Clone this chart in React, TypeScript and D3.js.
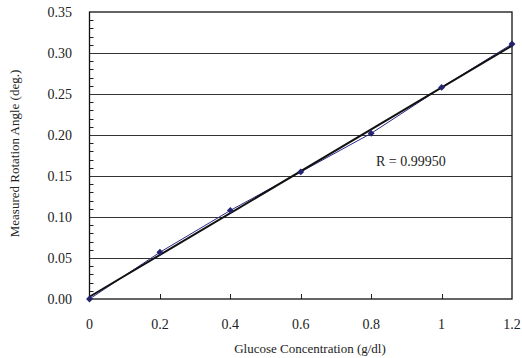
import { useEffect, useRef } from 'react';
import * as d3 from 'd3';

// glucose concentration (g/dl)
const concentrations = [0, 0.2, 0.4, 0.6, 0.8, 1.0, 1.2];
// measured rotation angle (deg.)
const angles = [0, 0.057, 0.108, 0.155, 0.202, 0.258, 0.311];

const xTicks = [0, 0.2, 0.4, 0.6, 0.8, 1.0, 1.2];
const xTickLabels = ['0', '0.2', '0.4', '0.6', '0.8', '1', '1.2'];
const yTicks = [0, 0.05, 0.1, 0.15, 0.2, 0.25, 0.3, 0.35];
const rLabel = 'R = 0.99950';

const App = () => {
    const svgRef = useRef<SVGSVGElement>(null);

    useEffect(() => {
        const svg = d3.select(svgRef.current);
        svg.selectAll('*').remove();

        const width = 522;
        const height = 358;
        const margin = { top: 12, right: 10, bottom: 59, left: 89.5 };

        const x = d3
            .scaleLinear()
            .domain([0, 1.2])
            .range([margin.left, width - margin.right]);
        const y = d3
            .scaleLinear()
            .domain([0, 0.35])
            .range([height - margin.bottom, margin.top]);

        const font = '"Liberation Serif", "Times New Roman", serif';

        // gridlines
        svg.append('g')
            .selectAll('line')
            .data(yTicks.slice(1, -1))
            .enter()
            .append('line')
            .attr('x1', x(0))
            .attr('x2', x(1.2))
            .attr('y1', (d) => Math.round(y(d)) + 0.5)
            .attr('y2', (d) => Math.round(y(d)) + 0.5)
            .attr('stroke', '#333')
            .attr('stroke-width', 1);

        // minor ticks on y axis, every 0.01
        const minor = d3
            .range(1, 35)
            .map((i) => i / 100)
            .filter((v) => Math.round(v * 100) % 5 !== 0);
        svg.append('g')
            .selectAll('line')
            .data(minor)
            .enter()
            .append('line')
            .attr('x1', x(0))
            .attr('x2', x(0) + 4)
            .attr('y1', (d) => Math.round(y(d)) + 0.5)
            .attr('y2', (d) => Math.round(y(d)) + 0.5)
            .attr('stroke', '#222');

        // x ticks (inside)
        svg.append('g')
            .selectAll('line')
            .data(xTicks.slice(1, -1))
            .enter()
            .append('line')
            .attr('x1', (d) => Math.round(x(d)) + 0.5)
            .attr('x2', (d) => Math.round(x(d)) + 0.5)
            .attr('y1', y(0))
            .attr('y2', y(0) - 5)
            .attr('stroke', '#222');

        // plot frame
        svg.append('rect')
            .attr('x', x(0))
            .attr('y', y(0.35))
            .attr('width', x(1.2) - x(0))
            .attr('height', y(0) - y(0.35))
            .attr('fill', 'none')
            .attr('stroke', '#111')
            .attr('stroke-width', 1.3);

        // tick labels
        svg.append('g')
            .selectAll('text')
            .data(yTicks)
            .enter()
            .append('text')
            .attr('x', 72)
            .attr('y', (d) => y(d) + 5)
            .attr('text-anchor', 'end')
            .style('font-family', font)
            .style('font-size', '14px')
            .attr('fill', '#222')
            .text((d) => d.toFixed(2));

        svg.append('g')
            .selectAll('text')
            .data(xTicks)
            .enter()
            .append('text')
            .attr('x', (d) => x(d))
            .attr('y', 329)
            .attr('text-anchor', 'middle')
            .style('font-family', font)
            .style('font-size', '14px')
            .attr('fill', '#222')
            .text((d, i) => xTickLabels[i]);

        // axis titles
        svg.append('text')
            .attr('x', 310)
            .attr('y', 353)
            .attr('text-anchor', 'middle')
            .style('font-family', font)
            .style('font-size', '13px')
            .attr('fill', '#222')
            .text('Glucose Concentration (g/dl)');

        svg.append('text')
            .attr('transform', `translate(19, ${y(0.175) - 2}) rotate(-90)`)
            .attr('text-anchor', 'middle')
            .style('font-family', font)
            .style('font-size', '13px')
            .attr('fill', '#222')
            .text('Measured Rotation Angle (deg.)');

        // linear trend line (least squares fit)
        const mx = d3.mean(concentrations) as number;
        const my = d3.mean(angles) as number;
        const sxy = d3.sum(concentrations, (c, i) => (c - mx) * (angles[i] - my));
        const sxx = d3.sum(concentrations, (c) => (c - mx) ** 2);
        const slope = sxy / sxx;
        const icpt = my - slope * mx;

        const points = concentrations.map((c, i) => [c, angles[i]] as [number, number]);

        const line = d3
            .line<[number, number]>()
            .x((d) => x(d[0]))
            .y((d) => y(d[1]));

        svg.append('path')
            .attr('d', line(points))
            .attr('fill', 'none')
            .attr('stroke', '#2a2a8a')
            .attr('stroke-width', 1);

        svg.append('path')
            .attr('d', line([[0, icpt], [1.2, icpt + slope * 1.2]]))
            .attr('fill', 'none')
            .attr('stroke', '#111')
            .attr('stroke-width', 2);

        // diamond markers
        const diamond = d3.symbol().type(d3.symbolDiamond2).size(30);
        svg.append('g')
            .selectAll('path')
            .data(points)
            .enter()
            .append('path')
            .attr('d', diamond)
            .attr('transform', (d) => `translate(${x(d[0])}, ${y(d[1])})`)
            .attr('fill', '#23236e');

        // correlation label
        svg.append('text')
            .attr('x', 376)
            .attr('y', 166)
            .style('font-family', font)
            .style('font-size', '14px')
            .attr('fill', '#222')
            .text(rLabel);
    }, []);

    return (
        <svg
            ref={svgRef}
            width={522}
            height={358}
            style={{ position: 'absolute', left: 0, top: 0, background: '#fff' }}
        ></svg>
    );
};

export default App;
